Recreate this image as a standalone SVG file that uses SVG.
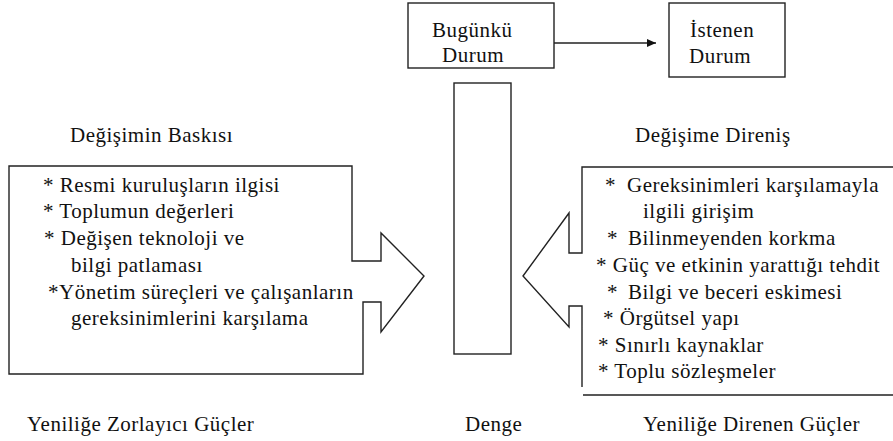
<svg xmlns="http://www.w3.org/2000/svg" width="893" height="441" viewBox="0 0 893 441">
<defs>
<marker id="arr" markerWidth="10" markerHeight="10" refX="9" refY="5" orient="auto" markerUnits="userSpaceOnUse">
<path d="M0,1 L9,5 L0,9 Z" fill="#111"/>
</marker>
</defs>
<rect width="893" height="441" fill="#fff"/>

<g id="bugunku">
<rect fill="none" stroke="#222" stroke-width="1.4" x="408" y="3" width="146" height="65"/>
<text font-family="Liberation Serif" font-size="21" letter-spacing="0.5" fill="#111" x="432" y="37">Bugünkü</text>
<text font-family="Liberation Serif" font-size="21" letter-spacing="0.5" fill="#111" x="442" y="62">Durum</text>
</g>

<g id="istenen">
<rect fill="none" stroke="#222" stroke-width="1.4" x="669" y="3" width="116" height="74"/>
<text font-family="Liberation Serif" font-size="21" letter-spacing="0.5" fill="#111" x="690" y="37">İstenen</text>
<text font-family="Liberation Serif" font-size="21" letter-spacing="0.5" fill="#111" x="689" y="63">Durum</text>
</g>

<g id="denge">
<rect fill="none" stroke="#222" stroke-width="1.4" x="454" y="83" width="57" height="271"/>
<text font-family="Liberation Serif" font-size="21" letter-spacing="0.5" fill="#111" x="465" y="431">Denge</text>
</g>

<g id="zorlayici">
<text font-family="Liberation Serif" font-size="21" letter-spacing="0.5" fill="#111" x="70" y="142">Değişimin Baskısı</text>
<path fill="none" stroke="#222" stroke-width="1.4" d="M381,233 L381,261 L352,261 L352,166 L9,166 L9,374 L363,374 L363,302 L381,302 L381,332 L424,276 Z"/>
<text font-family="Liberation Serif" font-size="21" letter-spacing="0.5" fill="#111" x="43" y="192">* Resmi kuruluşların ilgisi</text>
<text font-family="Liberation Serif" font-size="21" letter-spacing="0.5" fill="#111" x="43" y="218">* Toplumun değerleri</text>
<text font-family="Liberation Serif" font-size="21" letter-spacing="0.5" fill="#111" x="44" y="245">* Değişen teknoloji ve</text>
<text font-family="Liberation Serif" font-size="21" letter-spacing="0.5" fill="#111" x="71" y="272">bilgi patlaması</text>
<text font-family="Liberation Serif" font-size="21" letter-spacing="0.5" fill="#111" x="48" y="299">*Yönetim süreçleri ve çalışanların</text>
<text font-family="Liberation Serif" font-size="21" letter-spacing="0.5" fill="#111" x="71" y="325">gereksinimlerini karşılama</text>
<text font-family="Liberation Serif" font-size="21" letter-spacing="0.5" fill="#111" x="27" y="431">Yeniliğe Zorlayıcı Güçler</text>
</g>

<g id="direnen">
<text font-family="Liberation Serif" font-size="21" letter-spacing="0.5" fill="#111" x="635" y="142">Değişime Direniş</text>
<path fill="none" stroke="#222" stroke-width="1.4" d="M893,167 L582,167 L582,253 L569,253 L569,213 L523,276 L569,327 L569,306 L582,306 L582,387 M583,395 L893,395"/>
<text font-family="Liberation Serif" font-size="21" letter-spacing="0.5" fill="#111" x="605" y="192">*</text>
<text font-family="Liberation Serif" font-size="21" letter-spacing="0.5" fill="#111" x="627" y="192">Gereksinimleri karşılamayla</text>
<text font-family="Liberation Serif" font-size="21" letter-spacing="0.5" fill="#111" x="643" y="218">ilgili girişim</text>
<text font-family="Liberation Serif" font-size="21" letter-spacing="0.5" fill="#111" x="607" y="245">*</text>
<text font-family="Liberation Serif" font-size="21" letter-spacing="0.5" fill="#111" x="628" y="245">Bilinmeyenden korkma</text>
<text font-family="Liberation Serif" font-size="21" letter-spacing="0.5" fill="#111" x="596" y="272">* Güç ve etkinin yarattığı tehdit</text>
<text font-family="Liberation Serif" font-size="21" letter-spacing="0.5" fill="#111" x="607" y="299">*</text>
<text font-family="Liberation Serif" font-size="21" letter-spacing="0.5" fill="#111" x="628" y="299">Bilgi ve beceri eskimesi</text>
<text font-family="Liberation Serif" font-size="21" letter-spacing="0.5" fill="#111" x="603" y="325">* Örgütsel yapı</text>
<text font-family="Liberation Serif" font-size="21" letter-spacing="0.5" fill="#111" x="598" y="352">* Sınırlı kaynaklar</text>
<text font-family="Liberation Serif" font-size="21" letter-spacing="0.5" fill="#111" x="598" y="378">* Toplu sözleşmeler</text>
<text font-family="Liberation Serif" font-size="21" letter-spacing="0.5" fill="#111" x="643" y="431">Yeniliğe Direnen Güçler</text>
</g>

<g id="connectors">
<line stroke="#222" stroke-width="1.4" x1="554" y1="43" x2="656" y2="43" marker-end="url(#arr)"/>
</g>
</svg>
